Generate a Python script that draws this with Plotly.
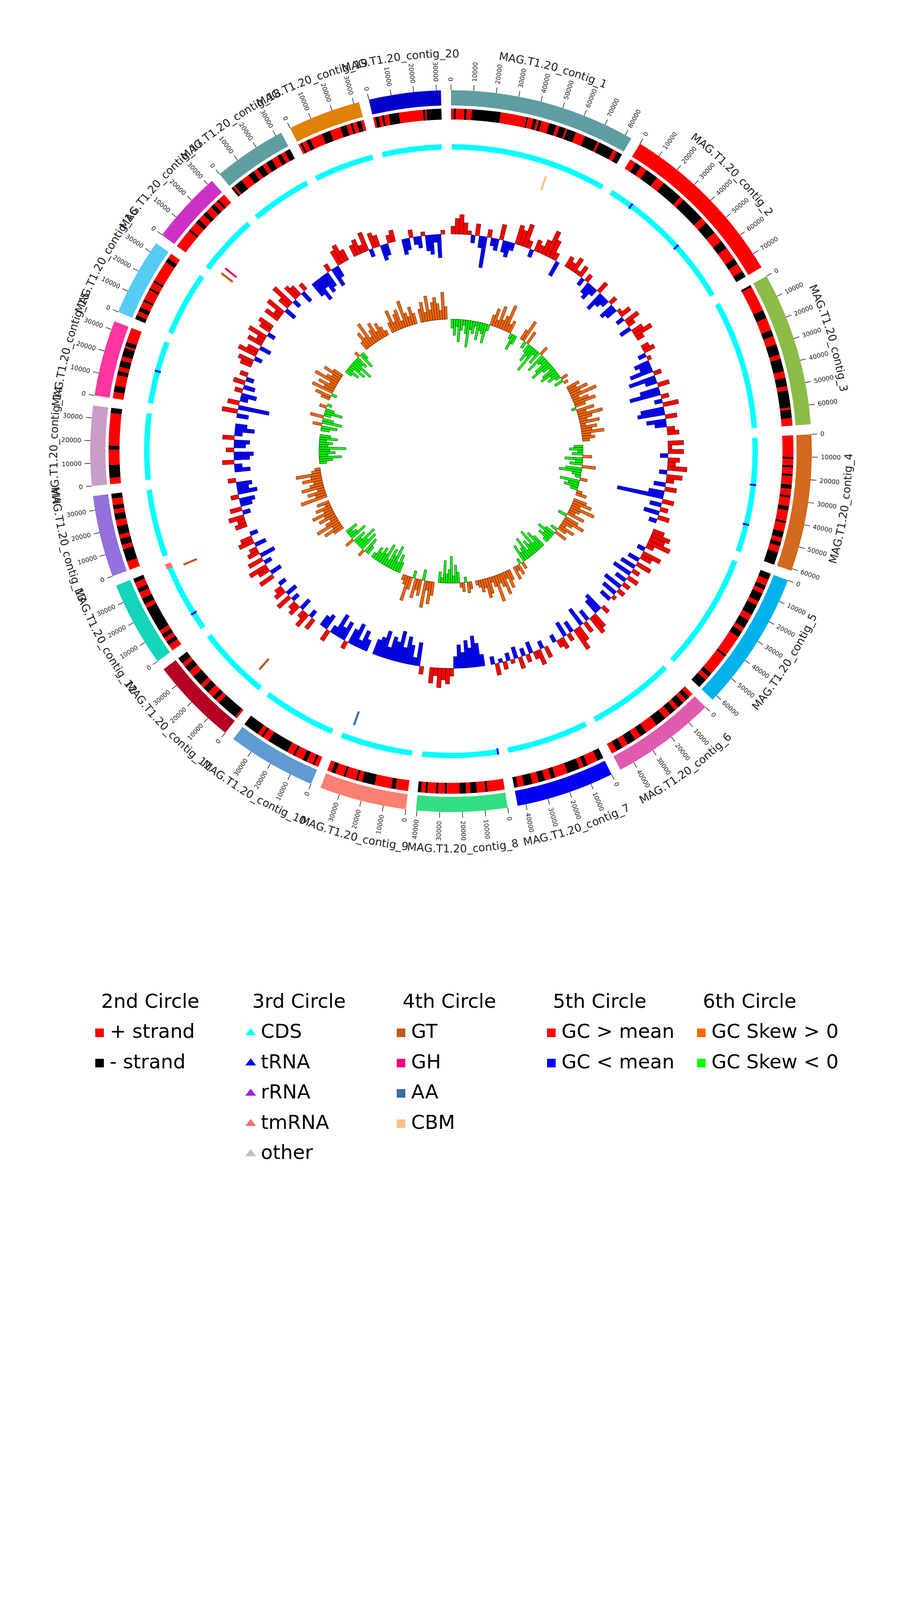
import math
import plotly.graph_objects as go

# ----------------------------- data -----------------------------
contig_names = [
    "MAG.T1.20_contig_1", "MAG.T1.20_contig_2", "MAG.T1.20_contig_3", "MAG.T1.20_contig_4",
    "MAG.T1.20_contig_5", "MAG.T1.20_contig_6", "MAG.T1.20_contig_7", "MAG.T1.20_contig_8",
    "MAG.T1.20_contig_9", "MAG.T1.20_contig_10", "MAG.T1.20_contig_11", "MAG.T1.20_contig_12",
    "MAG.T1.20_contig_13", "MAG.T1.20_contig_14", "MAG.T1.20_contig_15", "MAG.T1.20_contig_16",
    "MAG.T1.20_contig_17", "MAG.T1.20_contig_18", "MAG.T1.20_contig_19", "MAG.T1.20_contig_20",
]
contig_lengths = [83000, 77000, 68500, 61000, 62500, 46600, 43700, 40500, 38800, 39600,
                  39000, 38000, 36300, 35500, 33800, 34600, 32400, 32700, 32400, 32000]
contig_colors = ["#5F9EA0", "#FF0000", "#8BBC47", "#D2691E", "#00B2EC", "#E05BB0", "#0000F5",
                 "#33DD82", "#FA8072", "#5F9BD2", "#B50024", "#14D4B9", "#9370DB", "#CA9CC8",
                 "#FF35A0", "#56CCF5", "#CD30C5", "#5F9EA0", "#DE8209", "#0000CA"]

# strand blocks per contig, kb (positive = + strand, negative = - strand)
strand_blocks_kb = [
    [1.3, -1.0, 3.9, -1.1, 2.4, -13.5, 12.2, -0.7, 2.5, -1.5, 1.1, -1.4, 3.7, -3.4, 1.5, -3.0,
     0.8, -4.3, 4.5, -6.4, 1.0, -7.3, 1.9, -2.6],
    [3, -3, 3, -6, 4, -10, 2, -12, 3, -6, 5, -4, 6, -3, 4, -3],
    [-1, 12, -4, 6, -3, 4, -5, 2, -6, 3, -4, 2, -8, 1, -4, 3.5],
    [10, -1, 3, -1, 3, -1, 4, -2, 3, -1, 4, -2, 5, -1, 4, -3, 2, -2, 3, -6],
    [-3, 3, -2, 2, -4, 2, -5, 3, -4, 2, -3, 10, -1, 10, -2, 2, -4.5],
    [2, -2, 2, -3, 2, -3, 3, -5, 6, -3, 3, -4, 3, -3, 2.6],
    [-3, 5, -2, 2, -6, 6, -2, 3, -3, 3, -4, 3, -1.7],
    [8, -1, 4, -3, 2, -3, 6, -1, 3, -1, 4, -1, 2, -1.5],
    [6, -2, 7.8, -6, 2, -1, 5, -1, 4, -2, 2],
    [2, -1, 3, -2, 4, -1, 3, -10, 3, -1, 2, -7.6],
    [1, -10, 2, -2, 3, -3, 2, -5, 3, -3, 2, -3],
    [3, -2, 2, -2, 2, -12, 2, -3, 3, -2, 3, -2],
    [4, -6, 2, -3, 2, -4, 3, -3, 2, -2, 3, -2.3],
    [3, -6, 7, -2, 15, -2.5],
    [3, -3, 5, -2, 2, -3, 2, -4, 1, -2, 6.8],
    [-2, 2, -2, 3, -1, 5, -1, 3, -1, 10, -2, 2.6],
    [9, -1, 4, -2, 3, -2, 3, -2, 2, -1, 3.4],
    [-1, 1, -4, 4, -3, 2, -3, 2, -3, 3, -2, 2, -2.7],
    [1, -1, 2, -2, 6, -4, 5, -3, 2, -1, 2, -2, 1.4],
    [1, -1.6, 1.6, -1, 2.2, -4.8, 11.2, -1, 0.6, -7.0],
]

# RNA features on the 3rd circle: (contig number, position kb)
trna_sites = [(2, 13.0), (2, 45.0), (4, 25.0), (4, 46.0), (8, 0.5), (12, 9.4), (15, 17.5)]
tmrna_sites = [(12, 37.3)]

# CAZy features on the 4th circle: (contig number, position kb, class)
cazy_sites = [(1, 52.8, "CBM"), (9, 34.1, "AA"), (11, 7.1, "GT"), (12, 34.9, "GT"),
              (17, 2.7, "GT"), (17, 6.1, "GH")]
cazy_colors = {"GT": "#BF5B17", "GH": "#F0027F", "AA": "#386CB0", "CBM": "#FDC086"}

# GC content deviation from the mean (%), windows evenly spread over each contig
gc_content_dev = [
    [2, 4, 5, 3, 1, -2, 3, -3, -8, 2, -2, -3, 4, -3, -4, -2, 5, 4, 6, 2, -2, 3, 2, 4, 7, 5, 2, -4],
    [3, 2, 4, 1, 3, -2, 2, -3, -4, -2, 3, -5, -3, -2, 2, -4, -3, 1, 3, -2, 4, 2, -3, 3, 5, 2],
    [2, 3, -2, 1, -4, -3, -6, 2, -7, -3, 3, -5, -8, 2, -2, 4, -6, -7, 3, -5, -3, 2, 3],
    [4, 1, 4, -2, 3, 2, 5, -2, 4, 2, -3, 3, -4, -12, 3, -3, 2, -4, 3, -2],
    [3, 5, 4, 6, 2, -2, 5, 3, -3, 4, -4, 2, -5, 3, -3, 2, -5, 2, -4, 1, -3],
    [2, -5, -4, 4, 5, -3, 3, -5, 4, 6, -3, 2, -4, 3, 2, -2],
    [3, -2, 4, 2, -3, 2, -2, 3, -3, 1, -2, 2, -1, 3, -2],
    [-3, -6, -8, -5, -7, -4, -6, -3, 2, 4, 3, 5, 2, 4],
    [2, -6, -2, -5, -7, -4, -8, -5, -6, -3, -7, -5, -4],
    [-3, -5, -2, -6, -4, 2, -5, -3, -6, -2, 3, -4, -3],
    [3, -2, 4, 2, -3, 3, 2, -2, 4, -3, 3, 2, -2],
    [4, -3, 3, 5, -2, 4, -4, 3, 2, -3, 4, 3, -2],
    [3, 2, 4, -2, 3, -3, -4, 2, -5, -3, -4, 2],
    [-4, -2, 3, -4, -5, 2, -3, -4, 3, -2, -5, -3],
    [-3, 4, -8, 3, -2, -4, 2, -3, 3, -2, 2],
    [3, 4, -2, 5, 3, -3, 4, 2, 5, -2, 3, 4],
    [4, 2, 5, -3, 3, 6, -2, 4, 3, -3, 2],
    [-4, -6, -3, -5, -4, 2, -5, -3, 4, 5, 3],
    [3, 4, 2, 5, -2, 4, 3, -4, -3, 2, 3],
    [-4, -3, 2, -2, -3, 1, -4, -5, -2, -6, 1],
]

# GC skew per window
gc_skew = [
    [-0.10, -0.18, -0.08, -0.25, -0.12, -0.06, -0.15, -0.30, -0.10, -0.14, -0.05, -0.20, -0.09, -0.12,
     -0.22, -0.07, 0.12, 0.20, 0.08, 0.25, 0.10, 0.16, 0.30, 0.09, 0.14, -0.06, -0.18, -0.10],
    [0.12, 0.25, -0.08, 0.15, -0.10, -0.20, -0.12, -0.30, -0.06, -0.15, 0.10, -0.22, -0.10, -0.08,
     -0.18, -0.25, -0.12, -0.05, -0.16, -0.20, -0.09, -0.14, -0.06, 0.08, -0.10, 0.05],
    [0.15, 0.10, 0.22, 0.12, 0.30, 0.08, 0.18, 0.25, 0.12, -0.05, 0.20, 0.10, 0.28, 0.15, 0.09, 0.22,
     0.06, 0.18, 0.12, 0.25, 0.10, 0.14, 0.08],
    [-0.10, -0.15, -0.06, -0.12, 0.10, -0.20, -0.08, -0.14, 0.15, -0.18, -0.25, -0.10, -0.06, 0.08,
     -0.22, -0.12, -0.16, -0.08, 0.06, 0.12],
    [0.15, 0.22, 0.10, 0.28, 0.12, 0.08, 0.20, -0.10, 0.16, 0.25, 0.12, 0.06, 0.18, 0.10, -0.08, 0.14,
     -0.12, -0.20, -0.10, -0.15, -0.06],
    [-0.15, -0.22, -0.10, -0.28, -0.12, -0.18, -0.08, -0.25, -0.14, -0.10, -0.20, 0.08, -0.06, 0.12, 0.06, 0.15],
    [0.12, 0.20, 0.08, 0.25, 0.15, 0.10, 0.30, 0.12, 0.06, 0.18, 0.22, 0.10, 0.14, 0.08, 0.05],
    [0.08, 0.12, -0.06, 0.10, 0.05, -0.12, -0.20, -0.08, -0.30, -0.15, -0.10, -0.25, -0.06, -0.12],
    [0.15, 0.25, 0.10, 0.30, -0.12, 0.18, 0.12, 0.22, -0.08, 0.14, 0.28, 0.10, 0.06],
    [-0.12, -0.20, -0.10, -0.28, -0.15, -0.22, -0.08, -0.25, -0.12, -0.18, -0.10, -0.15, -0.06],
    [-0.10, -0.18, 0.08, -0.22, -0.12, -0.25, -0.08, -0.15, 0.10, -0.20, -0.10, -0.06, -0.14],
    [0.12, 0.22, 0.10, 0.28, 0.15, 0.08, 0.20, 0.12, 0.25, 0.10, 0.18, 0.06, 0.14],
    [0.30, 0.12, 0.20, 0.08, 0.25, 0.15, 0.10, 0.22, 0.12, 0.28, 0.10, 0.06],
    [-0.08, -0.15, -0.25, -0.10, -0.18, -0.12, -0.30, -0.10, -0.15, -0.08, -0.20, -0.12],
    [-0.10, -0.18, 0.10, -0.22, -0.12, 0.15, -0.08, -0.20, -0.10, 0.08, -0.05],
    [0.10, 0.18, -0.06, 0.25, 0.12, 0.20, 0.08, 0.28, 0.15, 0.10, 0.22, 0.12],
    [-0.08, -0.15, -0.06, -0.20, -0.12, -0.25, -0.10, -0.14, 0.06, -0.18, -0.08],
    [0.10, 0.20, 0.12, 0.28, 0.08, 0.15, 0.22, 0.10, 0.18, 0.12, 0.06],
    [0.12, 0.25, 0.10, 0.18, 0.22, 0.08, 0.30, 0.15, 0.10, 0.20, 0.12],
    [0.15, 0.22, 0.10, 0.28, 0.12, 0.20, 0.25, 0.18, 0.10, 0.30, 0.14],
]

tick_step = 10000

legend_titles = ["2nd Circle", "3rd Circle", "4th Circle", "5th Circle", "6th Circle"]
legend_items = [
    [("+ strand", "#FF0000"), ("- strand", "#000000")],
    [("CDS", "#00FFFF"), ("tRNA", "#0000FF"), ("rRNA", "#A020F0"), ("tmRNA", "#F87070"), ("other", "#BEBEBE")],
    [("GT", "#BF5B17"), ("GH", "#F0027F"), ("AA", "#386CB0"), ("CBM", "#FDC086")],
    [("GC &gt; mean", "#FF0000"), ("GC &lt; mean", "#0000FF")],
    [("GC Skew &gt; 0", "#FF6600"), ("GC Skew &lt; 0", "#00FF00")],
]
legend_symbols = ["square", "triangle-up", "square", "square", "square"]

# ----------------------------- layout constants -----------------------------
W, H = 2310, 4620
CX, CY = 1155.0, 1155.0
GAP = 1.61
R_CONTIG = (885, 924)
R_STRAND = (849, 877)
R_CDS = (772, 786)
R_CAZY = (707, 744)
GC_BASE, GC_SCALE = 556, 10.0
SKEW_BASE, SKEW_SCALE = 338, 230.0
TEXT_COLOR = "#222222"
FONT = "DejaVu Sans"

n = len(contig_lengths)
k = (360.0 - GAP * n) / sum(contig_lengths)
starts = []
acc = 0
for i, L in enumerate(contig_lengths):
    starts.append(acc * k + i * GAP)
    acc += L


def ang(ci, pos):
    return starts[ci] + pos * k


def xy(r, th):
    t = math.radians(th)
    return CX + r * math.sin(t), CY - r * math.cos(t)


fig = go.Figure()


def add_bars(theta, width, base, r, colors, line_w=0.0, line_c="black"):
    fig.add_trace(go.Barpolar(
        theta=theta, width=width, base=base, r=r,
        marker=dict(color=colors, opacity=1, line=dict(width=line_w, color=line_c)),
        showlegend=False, hoverinfo="skip"))


# 1st circle: contigs
add_bars([ang(i, L / 2) for i, L in enumerate(contig_lengths)],
         [L * k for L in contig_lengths],
         [R_CONTIG[0]] * n, [R_CONTIG[1] - R_CONTIG[0]] * n, contig_colors)

# 2nd circle: strand
th, wd, cl = [], [], []
for ci, blocks in enumerate(strand_blocks_kb):
    tot = sum(abs(b) for b in blocks)
    scale = contig_lengths[ci] / (tot * 1000.0)
    pos = 0.0
    for b in blocks:
        seg = abs(b) * 1000.0 * scale
        th.append(ang(ci, pos + seg / 2))
        wd.append(seg * k)
        cl.append("#FF0000" if b > 0 else "#000000")
        pos += seg
add_bars(th, wd, [R_STRAND[0]] * len(th), [R_STRAND[1] - R_STRAND[0]] * len(th), cl)

# 3rd circle: CDS band + RNA features
add_bars([ang(i, L / 2) for i, L in enumerate(contig_lengths)],
         [L * k - 0.25 for L in contig_lengths],
         [R_CDS[0]] * n, [R_CDS[1] - R_CDS[0]] * n, ["#00FFFF"] * n)
add_bars([ang(c - 1, p * 1000) for c, p in trna_sites], [0.35] * len(trna_sites),
         [R_CDS[0] - 2] * len(trna_sites), [R_CDS[1] - R_CDS[0] + 2] * len(trna_sites),
         ["#0000FF"] * len(trna_sites))
add_bars([ang(c - 1, p * 1000) for c, p in tmrna_sites], [1.0] * len(tmrna_sites),
         [R_CDS[0]] * len(tmrna_sites), [R_CDS[1] - R_CDS[0] + 2] * len(tmrna_sites),
         ["#F87070"] * len(tmrna_sites))

# 4th circle: CAZy
add_bars([ang(c - 1, p * 1000) for c, p, _ in cazy_sites], [0.42] * len(cazy_sites),
         [R_CAZY[0]] * len(cazy_sites), [R_CAZY[1] - R_CAZY[0]] * len(cazy_sites),
         [cazy_colors[t] for _, _, t in cazy_sites])


# 5th / 6th circles: GC content and GC skew
def window_bars(values, base_r, scale, pos_color, neg_color):
    th, wd, bs, rr, cl = [], [], [], [], []
    for ci, vals in enumerate(values):
        win = contig_lengths[ci] / len(vals)
        for j, v in enumerate(vals):
            th.append(ang(ci, (j + 0.5) * win))
            wd.append(win * k)
            bs.append(base_r + min(0.0, v * scale))
            rr.append(abs(v) * scale)
            cl.append(pos_color if v > 0 else neg_color)
    add_bars(th, wd, bs, rr, cl, line_w=0.9, line_c="#111111")


window_bars(gc_content_dev, GC_BASE, GC_SCALE, "#FF0000", "#0000FF")
window_bars(gc_skew, SKEW_BASE, SKEW_SCALE, "#FF6600", "#00FF00")

# tick marks
tr, tt = [], []
for ci, L in enumerate(contig_lengths):
    for p in range(0, L + 1, tick_step):
        a = ang(ci, p)
        tr += [R_CONTIG[1], R_CONTIG[1] + 15, None]
        tt += [a, a, None]
fig.add_trace(go.Scatterpolar(r=tr, theta=tt, mode="lines",
                              line=dict(color=TEXT_COLOR, width=1.6),
                              showlegend=False, hoverinfo="skip"))

annotations = []

# tick labels
TICK_FS = 16
for ci, L in enumerate(contig_lengths):
    for p in range(0, L + 1, tick_step):
        a = ang(ci, p) % 360
        txt = str(p)
        w = len(txt) * 0.636 * TICK_FS
        x, y = xy(R_CONTIG[1] + 23 + w / 2, a)
        rot = a - 90 if a < 180 else a - 270
        annotations.append(dict(x=x, y=y, xref="x", yref="y", text=txt, showarrow=False,
                                textangle=rot, xanchor="center", yanchor="middle",
                                font=dict(family=FONT, size=TICK_FS, color=TEXT_COLOR)))

# contig labels (curved, character by character)
char_w = {"M": .863, "A": .684, "G": .775, ".": .318, "T": .611, "_": .5, "c": .55,
          "o": .612, "n": .634, "t": .392, "i": .278, "g": .635}
LAB_FS = 28
R_LAB = 1018
for ci, name in enumerate(contig_names):
    mid = ang(ci, contig_lengths[ci] / 2) % 360
    widths = [char_w.get(ch, .636) * LAB_FS for ch in name]
    total_w = sum(widths)
    span = math.degrees(total_w / R_LAB)
    top = mid < 90 or mid >= 270
    cum = 0.0
    for ch, cw in zip(name, widths):
        off = math.degrees((cum + cw / 2) / R_LAB)
        if top:
            a = mid - span / 2 + off
            rot = a
        else:
            a = mid + span / 2 - off
            rot = a - 180
        cum += cw
        x, y = xy(R_LAB, a)
        rot = ((rot + 180) % 360) - 180
        annotations.append(dict(x=x, y=y, xref="x", yref="y", text=ch, showarrow=False,
                                textangle=rot, xanchor="center", yanchor="middle",
                                font=dict(family=FONT, size=LAB_FS, color=TEXT_COLOR)))

# legend
LEG_X = [255, 642, 1027, 1412, 1796]
LEG_TITLE_Y = 2563
LEG_ROW0 = 2640
LEG_DY = 77.5
LEG_FS = 50
mx, my, msym, mcol, msize = [], [], [], [], []
for c, (title, items) in enumerate(zip(legend_titles, legend_items)):
    annotations.append(dict(x=LEG_X[c] + 2, y=LEG_TITLE_Y, xref="x", yref="y", text=title,
                            showarrow=False, xanchor="left", yanchor="middle",
                            font=dict(family=FONT, size=LEG_FS, color="#000000")))
    for r_i, (label, col) in enumerate(items):
        yy = LEG_ROW0 + r_i * LEG_DY
        mx.append(LEG_X[c])
        my.append(yy + 4)
        msym.append(legend_symbols[c])
        mcol.append(col)
        msize.append(22 if legend_symbols[c] == "square" else 24)
        annotations.append(dict(x=LEG_X[c] + 24, y=yy, xref="x", yref="y", text=label,
                                showarrow=False, xanchor="left", yanchor="middle",
                                font=dict(family=FONT, size=LEG_FS, color="#000000")))
fig.add_trace(go.Scatter(x=mx, y=my, mode="markers", xaxis="x", yaxis="y",
                         marker=dict(symbol=msym, color=mcol, size=msize, opacity=1,
                                     line=dict(width=0)),
                         showlegend=False, hoverinfo="skip"))

fig.update_layout(
    width=W, height=H, margin=dict(l=0, r=0, t=0, b=0),
    paper_bgcolor="white", plot_bgcolor="rgba(0,0,0,0)", showlegend=False,
    font=dict(family=FONT),
    polar=dict(domain=dict(x=[0, 1], y=[0.5, 1]), bgcolor="rgba(0,0,0,0)", barmode="overlay",
               radialaxis=dict(range=[0, W / 2], visible=False),
               angularaxis=dict(rotation=90, direction="clockwise", visible=False)),
    xaxis=dict(range=[0, W], domain=[0, 1], visible=False, fixedrange=True),
    yaxis=dict(range=[H, 0], domain=[0, 1], visible=False, fixedrange=True),
    annotations=annotations,
)

fig.write_html("out.html", config={"displayModeBar": False},
               post_script="document.body.style.margin='0';")
